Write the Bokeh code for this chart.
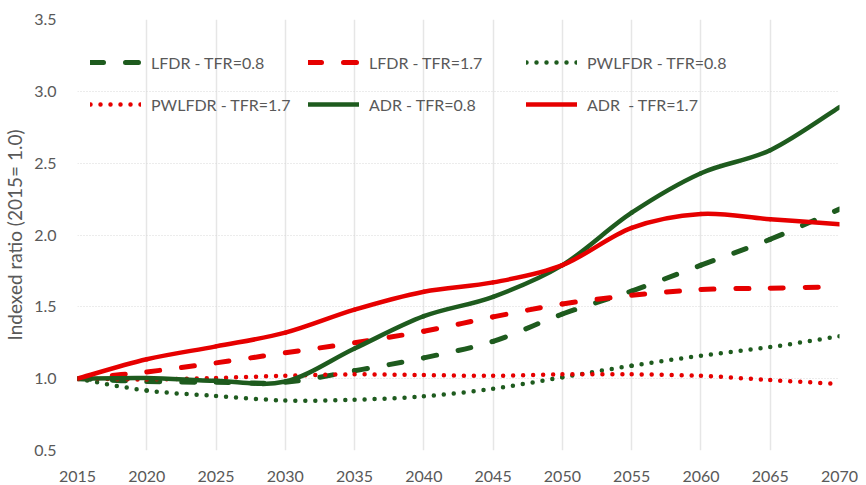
import numpy as np
from bokeh.plotting import figure
from bokeh.models import (ColumnDataSource, FixedTicker, NumeralTickFormatter, Legend,
                          LegendItem, Range1d)
from bokeh.embed import file_html
from bokeh.resources import INLINE

# ---- data ----
years = [2015, 2020, 2025, 2030, 2035, 2040, 2045, 2050, 2055, 2060, 2065, 2070]
lfdr_08 = [1.00, 0.98, 0.975, 0.975, 1.055, 1.145, 1.26, 1.45, 1.61, 1.79, 1.97, 2.18]
lfdr_17 = [1.00, 1.047, 1.11, 1.18, 1.25, 1.33, 1.43, 1.52, 1.58, 1.62, 1.63, 1.64]
pwlfdr_08 = [1.00, 0.917, 0.88, 0.848, 0.853, 0.877, 0.93, 1.01, 1.09, 1.16, 1.22, 1.295]
pwlfdr_17 = [1.00, 0.995, 1.005, 1.02, 1.03, 1.025, 1.02, 1.03, 1.03, 1.02, 0.99, 0.963]
adr_08 = [1.00, 1.005, 0.985, 0.98, 1.21, 1.435, 1.57, 1.79, 2.155, 2.43, 2.59, 2.89]
adr_17 = [1.00, 1.135, 1.225, 1.32, 1.48, 1.605, 1.67, 1.79, 2.05, 2.147, 2.11, 2.075]
y_ticks = [0.5, 1.0, 1.5, 2.0, 2.5, 3.0, 3.5]

labels = ["LFDR - TFR=0.8", "LFDR - TFR=1.7", "PWLFDR - TFR=0.8",
          "PWLFDR - TFR=1.7", "ADR - TFR=0.8", "ADR  - TFR=1.7"]

GREEN = "#1E5B1E"
RED = "#E60000"
FONT = "Lato"
TXT = "#595959"


def smooth_segments(xs, ys):
    """Bezier control points like a spreadsheet 'smoothed line'."""
    n = len(xs)
    d = dict(x0=[], y0=[], x1=[], y1=[], cx0=[], cy0=[], cx1=[], cy1=[])
    for i in range(n - 1):
        a = i - 1 if i > 0 else i
        b = i + 2 if i + 2 < n else i + 1
        d["x0"].append(xs[i]); d["y0"].append(ys[i])
        d["x1"].append(xs[i + 1]); d["y1"].append(ys[i + 1])
        d["cx0"].append(xs[i] + (xs[i + 1] - xs[a]) / 6.0)
        d["cy0"].append(ys[i] + (ys[i + 1] - ys[a]) / 6.0)
        d["cx1"].append(xs[i + 1] - (xs[b] - xs[i]) / 6.0)
        d["cy1"].append(ys[i + 1] - (ys[b] - ys[i]) / 6.0)
    return ColumnDataSource(d)


p = figure(width=858, height=484, output_backend="svg", toolbar_location=None,
           x_range=Range1d(2015, 2070), y_range=Range1d(0.5, 3.5),
           min_border_left=71, min_border_right=19, min_border_top=19, min_border_bottom=34)
p.outline_line_color = None
p.background_fill_color = "white"
p.border_fill_color = "white"

styles = [
    (lfdr_08, GREEN, 5, "13 22"),
    (lfdr_17, RED, 5, "13 22"),
    (pwlfdr_08, GREEN, 4.5, "0 10"),
    (pwlfdr_17, RED, 4.5, "0 10"),
    (adr_08, GREEN, 4.5, "solid"),
    (adr_17, RED, 4.5, "solid"),
]

legend_renderers = []
for ys, col, w, dash in styles:
    src = smooth_segments(years, ys)
    p.bezier(x0="x0", y0="y0", x1="x1", y1="y1", cx0="cx0", cy0="cy0", cx1="cx1", cy1="cy1",
             source=src, line_color=col, line_width=w, line_dash=dash, line_cap="round")
    # legend sample (a single undefined point, draws nothing in the plot)
    r = p.line(x=np.array([np.nan]), y=np.array([np.nan]), line_color=col, line_width=w,
               line_dash=dash, line_cap="round")
    legend_renderers.append(r)

# axes
p.xaxis.ticker = FixedTicker(ticks=years)
p.yaxis.ticker = FixedTicker(ticks=y_ticks)
p.yaxis.formatter = NumeralTickFormatter(format="0.0")
for ax in (p.xaxis[0], p.yaxis[0]):
    ax.axis_line_color = None
    ax.major_tick_line_color = None
    ax.minor_tick_line_color = None
    ax.major_label_text_font = FONT
    ax.major_label_text_font_size = "16px"
    ax.major_label_text_color = TXT
p.xaxis.major_label_standoff = 14
p.yaxis.major_label_standoff = 15
p.yaxis.axis_label = "Indexed ratio (2015= 1.0)"
p.yaxis.axis_label_text_font = FONT
p.yaxis.axis_label_text_font_size = "19px"
p.yaxis.axis_label_text_font_style = "normal"
p.yaxis.axis_label_text_color = TXT
p.yaxis.axis_label_standoff = 5

p.xgrid.grid_line_color = "#E6E6E6"
p.xgrid.grid_line_width = 1.5
p.ygrid.grid_line_color = "#D9D9D9"
p.ygrid.grid_line_width = 1
p.ygrid.grid_line_dash = "1 2"

# legends: two rows of three
for row, loc_y in enumerate([378, 336]):
    items = [LegendItem(label=labels[row * 3 + k], renderers=[legend_renderers[row * 3 + k]])
             for k in range(3)]
    lg = Legend(items=items, orientation="horizontal", location=(13, loc_y),
                glyph_width=51, glyph_height=20, label_height=20, label_width=145,
                label_standoff=10, spacing=12, padding=0, margin=0,
                border_line_color=None, background_fill_alpha=0,
                label_text_font=FONT, label_text_font_size="16px", label_text_color=TXT)
    p.add_layout(lg, "center")

open("out.html", "w").write(file_html(p, INLINE))
